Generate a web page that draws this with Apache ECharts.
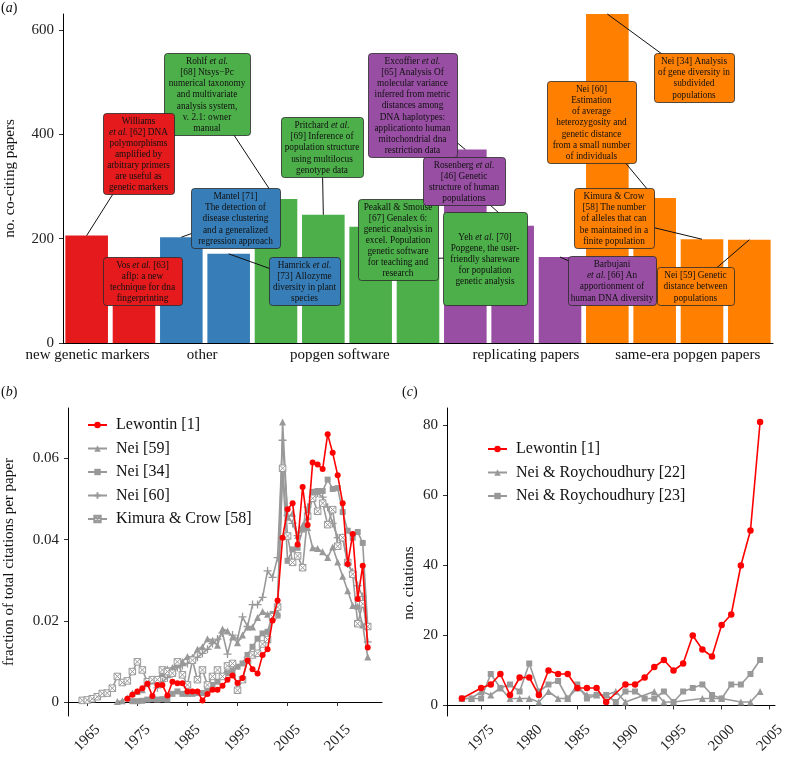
<!DOCTYPE html>
<html><head><meta charset="utf-8">
<script src="https://cdn.jsdelivr.net/npm/echarts@6/dist/echarts.min.js"></script>
<style>html,body{margin:0;padding:0;background:#fff}#c{width:790px;height:757px}</style>
</head><body><div id="c"></div>
<script>
// ---------------- Panel (a) data ----------------
const groupNames = ['new genetic markers', 'other', 'popgen software', 'replicating papers', 'same-era popgen papers'];
const barGroup = [0, 0, 1, 1, 2, 2, 2, 2, 3, 3, 3, 4, 4, 4, 4];
const barValues = [206, 150, 203, 171, 276, 246, 223, 163, 371, 225, 165, 631, 278, 199, 198];
const barLabels = [
  'Williams\n{i|et al.} [62] DNA\npolymorphisms\namplified by\narbitrary primers\nare useful as\ngenetic markers',
  'Vos {i|et al.} [63]\naflp: a new\ntechnique for dna\nfingerprinting',
  'Mantel [71]\nThe detection of\ndisease clustering\nand a generalized\nregression approach',
  'Hamrick {i|et al.}\n[73] Allozyme\ndiversity in plant\nspecies',
  'Rohlf {i|et al.}\n[68] Ntsys\u2212Pc\nnumerical taxonomy\nand multivariate\nanalysis system,\nv. 2.1: owner\nmanual',
  'Pritchard {i|et al.}\n[69] Inference of\npopulation structure\nusing multilocus\ngenotype data',
  'Peakall & Smouse\n[67] Genalex 6:\ngenetic analysis in\nexcel. Population\ngenetic software\nfor teaching and\nresearch',
  'Yeh {i|et al.} [70]\nPopgene, the user-\nfriendly shareware\nfor population\ngenetic analysis',
  'Excoffier {i|et al.}\n[65] Analysis Of\nmolecular variance\ninferred from metric\ndistances among\nDNA haplotypes:\napplicationto human\nmitochondrial dna\nrestriction data',
  'Rosenberg {i|et al.}\n[46] Genetic\nstructure of human\npopulations',
  'Barbujani\n{i|et al.} [66] An\napportionment of\nhuman DNA diversity',
  'Nei [34] Analysis\nof gene diversity in\nsubdivided\npopulations',
  'Nei [60]\nEstimation\nof average\nheterozygosity and\ngenetic distance\nfrom a small number\nof individuals',
  'Kimura & Crow\n[58] The number\nof alleles that can\nbe maintained in a\nfinite population',
  'Nei [59] Genetic\ndistance between\npopulations'
];
const yTicksA = [0, 200, 400, 600];

// ---------------- Panel (b) data (fraction of total citations per paper) ----------------
const bNames = ['Lewontin [1]', 'Nei [59]', 'Nei [34]', 'Nei [60]', 'Kimura & Crow [58]'];
const bLewontinYears = [1973,1974,1975,1976,1977,1978,1979,1980,1981,1982,1983,1984,1985,1986,1987,1988,1989,1990,1991,1992,1993,1994,1995,1996,1997,1998,1999,2000,2001,2002,2003,2004,2005,2006,2007,2008,2009,2010,2011,2012,2013,2014,2015,2016,2017,2018,2019,2020,2021];
const bLewontin = [0.0008,0.0018,0.0026,0.0034,0.0045,0.0015,0.0042,0.0042,0.0016,0.0050,0.0046,0.0046,0.0026,0.0026,0.0026,0.0004,0.0020,0.0030,0.0030,0.0040,0.0055,0.0065,0.0047,0.0059,0.0102,0.0081,0.0070,0.0116,0.0130,0.0201,0.0250,0.0405,0.0475,0.0490,0.0388,0.0530,0.0436,0.0590,0.0585,0.0574,0.0660,0.0614,0.0559,0.0490,0.0340,0.0414,0.0254,0.0336,0.0134];
const bNei59Years = [1971,1972,1973,1974,1975,1976,1977,1978,1979,1980,1981,1982,1983,1984,1985,1986,1987,1988,1989,1990,1991,1992,1993,1994,1995,1996,1997,1998,1999,2000,2001,2002,2003,2004,2005,2006,2007,2008,2009,2010,2011,2012,2013,2014,2015,2016,2017,2018,2019,2020,2021];
const bNei59 = [0.0001,0.0003,0.0010,0.0022,0.0026,0.0030,0.0045,0.0052,0.0055,0.0070,0.0082,0.0085,0.0095,0.0100,0.0112,0.0110,0.0130,0.0136,0.0156,0.0152,0.0140,0.0180,0.0175,0.0160,0.0146,0.0165,0.0185,0.0185,0.0208,0.0223,0.0216,0.0216,0.0220,0.0690,0.0455,0.0465,0.0410,0.0435,0.0430,0.0380,0.0378,0.0370,0.0356,0.0382,0.0345,0.0310,0.0274,0.0238,0.0236,0.0190,0.0111];
const bNei34Years = [1974,1975,1976,1977,1978,1979,1980,1981,1982,1983,1984,1985,1986,1987,1988,1989,1990,1991,1992,1993,1994,1995,1996,1997,1998,1999,2000,2001,2002,2003,2004,2005,2006,2007,2008,2009,2010,2011,2012,2013,2014,2015,2016,2017,2018,2019,2020,2021];
const bNei34 = [0.0002,0.0002,0.0003,0.0006,0.0007,0.0006,0.0007,0.0006,0.0020,0.0026,0.0020,0.0020,0.0020,0.0022,0.0022,0.0034,0.0042,0.0050,0.0064,0.0071,0.0077,0.0087,0.0095,0.0116,0.0136,0.0156,0.0169,0.0173,0.0217,0.0213,0.0576,0.0348,0.0376,0.0380,0.0425,0.0470,0.0518,0.0520,0.0520,0.0548,0.0525,0.0527,0.0468,0.0422,0.0405,0.0419,0.0392,0.0186];
const bNei60Years = [1979,1980,1981,1982,1983,1984,1985,1986,1987,1988,1989,1990,1991,1992,1993,1994,1995,1996,1997,1998,1999,2000,2001,2002,2003,2004,2005,2006,2007,2008,2009,2010,2011,2012,2013,2014,2015,2016,2017,2018,2019,2020,2021];
const bNei60 = [0.0035,0.0050,0.0060,0.0070,0.0085,0.0090,0.0095,0.0105,0.0110,0.0120,0.0130,0.0144,0.0155,0.0170,0.0118,0.0165,0.0155,0.0210,0.0186,0.0240,0.0240,0.0258,0.0323,0.0307,0.0356,0.0645,0.0460,0.0440,0.0410,0.0430,0.0480,0.0505,0.0515,0.0505,0.0480,0.0440,0.0405,0.0405,0.0340,0.0320,0.0287,0.0260,0.0148];
const bKimuraYears = [1964,1965,1966,1967,1968,1969,1970,1971,1972,1973,1974,1975,1976,1977,1978,1979,1980,1981,1982,1983,1984,1985,1986,1987,1988,1989,1990,1991,1992,1993,1994,1995,1996,1997,1998,1999,2000,2001,2002,2003,2004,2005,2006,2007,2008,2009,2010,2011,2012,2013,2014,2015,2016,2017,2018,2019,2020,2021];
const bKimura = [0.0004,0.0005,0.0008,0.0013,0.0021,0.0022,0.0034,0.0063,0.0048,0.0052,0.0075,0.0099,0.0079,0.0050,0.0055,0.0055,0.0079,0.0075,0.0071,0.0099,0.0067,0.0042,0.0103,0.0055,0.0079,0.0042,0.0063,0.0079,0.0063,0.0089,0.0095,0.0029,0.0055,0.0103,0.0116,0.0120,0.0143,0.0154,0.0210,0.0234,0.0576,0.0409,0.0344,0.0360,0.0331,0.0458,0.0502,0.0470,0.0490,0.0437,0.0474,0.0384,0.0405,0.0344,0.0315,0.0193,0.0242,0.0186];
const bXTicks = [1965, 1975, 1985, 1995, 2005, 2015];
const bYTicks = [0, 0.02, 0.04, 0.06];

// ---------------- Panel (c) data (no. citations) ----------------
const cNames = ['Lewontin [1]', 'Nei & Roychoudhury [22]', 'Nei & Roychoudhury [23]'];
const cLewontinYears = [1973,1975,1976,1977,1978,1979,1980,1981,1982,1983,1984,1985,1986,1987,1988,1990,1991,1992,1993,1994,1995,1996,1997,1998,1999,2000,2001,2002,2003,2004];
const cLewontin = [2,5,6,9,3,8,8,3,10,9,9,5,5,5,1,6,6,8,11,13,10,12,20,16,14,23,26,40,50,81];
const cNR22Years = [1973,1974,1975,1976,1977,1978,1979,1980,1981,1982,1983,1984,1985,1986,1987,1988,1989,1990,1993,1994,1995,1998,1999,2000,2002,2003,2004];
const cNR22 = [2,2,4,3,5,2,2,2,1,4,2,2,5,3,3,3,4,1,4,1,1,2,2,2,1,1,4];
const cNR23Years = [1973,1974,1975,1976,1977,1978,1979,1980,1981,1982,1983,1984,1985,1986,1987,1988,1989,1990,1991,1992,1993,1994,1995,1996,1997,1998,1999,2000,2001,2002,2003,2004];
const cNR23 = [2,2,2,9,5,6,4,12,4,6,7,2,6,2,3,3,1,4,4,2,2,4,1,4,5,6,3,2,6,6,9,13];
const cXTicks = [1975, 1980, 1985, 1990, 1995, 2000, 2005];
const cYTicks = [0, 20, 40, 60, 80];

// ---------------- styling ----------------
const SERIF = 'Liberation Serif';
const groupColors = ['#E41A1C', '#377EB8', '#4DAF4A', '#984EA3', '#FF7F00'];
const groupLabelPos = [0.52, 2.94, 5.85, 9.78, 13.2];
const boxRects = [
  [103,113,174,194],[103,257,182,305],[191,188,280,248],[269,257,340,305],
  [164,53,250,135],[281,117,363,177],[358,199,438,280],[443,212,527,305],
  [368,53,457,157],[423,157,505,205],[568,256,656,305],[654,53,734,102],
  [547,81,636,163],[574,188,654,248],[657,267,734,305]
];
const drawOrder = [4,0,1,2,3,5,6,7,8,9,10,11,12,13,14];
const GRAY = '#999999';
const RED = '#FF0000';
const pairs = (xs, ys) => xs.map((x, i) => [x, ys[i]]);
const plusSym = 'path://M5 0V10M0 5H10';
const boxXSym = 'path://M0 0H10V10H0ZM0 0L10 10M10 0L0 10';

const axisLineStyle = {show: true, lineStyle: {color: '#000', width: 1}};
const tickStyle = {show: true, length: 4, lineStyle: {color: '#333', width: 1}};
const labelFont = {fontFamily: SERIF, fontSize: 15, color: '#222'};

function lineSeries(name, data, xi, yi, sym, size, color, extra) {
  return Object.assign({
    type: 'line', name, data, xAxisIndex: xi, yAxisIndex: yi,
    symbol: sym, symbolSize: size, showSymbol: true,
    lineStyle: {color, width: 1.6},
    itemStyle: {color},
    emphasis: {disabled: true}, animation: false
  }, extra || {});
}

const chart = echarts.init(document.getElementById('c'), null, {renderer: 'canvas'});
const option = {
  animation: false,
  backgroundColor: '#fff',
  textStyle: {fontFamily: SERIF},
  grid: [
    {left: 63, top: 14, width: 710, height: 329, outerBoundsMode: 'none', containLabel: false},
    {left: 68, top: 408, width: 314, height: 308, outerBoundsMode: 'none', containLabel: false},
    {left: 447, top: 408, width: 328, height: 308, outerBoundsMode: 'none', containLabel: false}
  ],
  xAxis: [
    {type: 'category', gridIndex: 0, position: 'bottom', data: barValues.map((v, i) => i), boundaryGap: true,
     axisLine: axisLineStyle, axisTick: {show: false}, axisLabel: {show: false}, splitLine: {show: false}},
    {type: 'value', gridIndex: 0, position: 'bottom', min: 0, max: 15, axisLine: {show: false}, axisTick: {show: false},
     splitLine: {show: false},
     axisLabel: Object.assign({}, labelFont, {color: '#111', margin: 5, customValues: groupLabelPos, showMinLabel: true, showMaxLabel: true,
       formatter: v => { let k = 0; groupLabelPos.forEach((p, i) => { if (Math.abs(p - v) < Math.abs(groupLabelPos[k] - v)) k = i; }); return groupNames[k]; }})},
    {type: 'value', gridIndex: 1, min: 1961.15, max: 2023.85, axisLine: axisLineStyle,
     axisTick: Object.assign({}, tickStyle, {customValues: bXTicks}), splitLine: {show: false},
     axisLabel: Object.assign({}, labelFont, {customValues: bXTicks, rotate: 45, align: 'center', verticalAlign: 'middle', margin: 22, formatter: v => String(v)})},
    {type: 'value', gridIndex: 2, min: 1971.45, max: 2005.55, axisLine: axisLineStyle,
     axisTick: Object.assign({}, tickStyle, {customValues: cXTicks}), splitLine: {show: false},
     axisLabel: Object.assign({}, labelFont, {customValues: cXTicks, rotate: 45, align: 'center', verticalAlign: 'middle', margin: 22, formatter: v => String(v)})}
  ],
  yAxis: [
    {type: 'value', gridIndex: 0, min: 0, max: 631, axisLine: axisLineStyle,
     axisTick: Object.assign({}, tickStyle, {customValues: yTicksA}), splitLine: {show: false},
     axisLabel: Object.assign({}, labelFont, {customValues: yTicksA, margin: 9}),
     name: 'no. co-citing papers', nameLocation: 'middle', nameGap: 45,
     nameTextStyle: {fontFamily: SERIF, fontSize: 15, color: '#111'}},
    {type: 'value', gridIndex: 1, min: -0.00345, max: 0.07245, axisLine: axisLineStyle,
     axisTick: Object.assign({}, tickStyle, {customValues: bYTicks}), splitLine: {show: false},
     axisLabel: Object.assign({}, labelFont, {customValues: bYTicks, margin: 9, formatter: v => v === 0 ? '0' : v.toFixed(2)}),
     name: 'fraction of total citations per paper', nameLocation: 'middle', nameGap: 51,
     nameTextStyle: {fontFamily: SERIF, fontSize: 15, color: '#111'}},
    {type: 'value', gridIndex: 2, min: -3, max: 85, axisLine: axisLineStyle,
     axisTick: Object.assign({}, tickStyle, {customValues: cYTicks}), splitLine: {show: false},
     axisLabel: Object.assign({}, labelFont, {customValues: cYTicks, margin: 9}),
     name: 'no. citations', nameLocation: 'middle', nameGap: 30,
     nameTextStyle: {fontFamily: SERIF, fontSize: 15, color: '#111', padding: [0, 42, 0, 0]}}
  ],
  legend: [
    {data: bNames, orient: 'vertical', left: 87, top: 417, padding: 0, itemGap: 7.5, itemWidth: 19, itemHeight: 8,
     selectedMode: false, textStyle: {fontFamily: SERIF, fontSize: 16, color: '#111', lineHeight: 16, padding: [0, 0, 0, 4]}},
    {data: cNames, orient: 'vertical', left: 487, top: 441, padding: 0, itemGap: 7.5, itemWidth: 19, itemHeight: 8,
     selectedMode: false, textStyle: {fontFamily: SERIF, fontSize: 16, color: '#111', lineHeight: 16, padding: [0, 0, 0, 4]}}
  ],
  series: [
    {type: 'bar', xAxisIndex: 0, yAxisIndex: 0, barCategoryGap: '10%', animation: false,
     data: barValues.map((v, i) => ({value: v, itemStyle: {color: groupColors[barGroup[i]]}})),
     emphasis: {disabled: true}},
    lineSeries(bNames[1], pairs(bNei59Years, bNei59), 2, 1, 'triangle', 7, GRAY),
    lineSeries(bNames[2], pairs(bNei34Years, bNei34), 2, 1, 'rect', 6, GRAY),
    lineSeries(bNames[3], pairs(bNei60Years, bNei60), 2, 1, plusSym, 8, GRAY,
      {itemStyle: {color: 'rgba(0,0,0,0)', borderColor: GRAY, borderWidth: 1.3}}),
    lineSeries(bNames[4], pairs(bKimuraYears, bKimura), 2, 1, boxXSym, 6.5, GRAY,
      {itemStyle: {color: '#fff', borderColor: GRAY, borderWidth: 1}}),
    lineSeries(bNames[0], pairs(bLewontinYears, bLewontin), 2, 1, 'circle', 6, RED, {z: 5}),
    lineSeries(cNames[1], pairs(cNR22Years, cNR22), 3, 2, 'triangle', 7, GRAY),
    lineSeries(cNames[2], pairs(cNR23Years, cNR23), 3, 2, 'rect', 6, GRAY),
    lineSeries(cNames[0], pairs(cLewontinYears, cLewontin), 3, 2, 'circle', 6.5, RED, {z: 5})
  ]
};
chart.setOption(option);

// annotation boxes (ggrepel-like) for panel (a)
const graphics = [];
barValues.forEach((v, i) => {
  const p = chart.convertToPixel({xAxisIndex: 0, yAxisIndex: 0}, [i, v]);
  const r = boxRects[i];
  graphics.push({type: 'line', z: 50, silent: true,
    shape: {x1: p[0], y1: p[1], x2: (r[0] + r[2]) / 2, y2: (r[1] + r[3]) / 2},
    style: {stroke: '#111', lineWidth: 1}});
});
drawOrder.forEach((i, k) => {
  const r = boxRects[i];
  const col = groupColors[barGroup[i]];
  graphics.push({type: 'rect', z: 60 + k * 2, silent: true,
    shape: {x: r[0] + 0.5, y: r[1] + 0.5, width: r[2] - r[0], height: r[3] - r[1], r: 3},
    style: {fill: col, stroke: '#2a2a2a', lineWidth: 0.8}});
  graphics.push({type: 'text', z: 61 + k * 2, silent: true,
    x: (r[0] + r[2]) / 2, y: (r[1] + r[3]) / 2 + 1,
    style: {text: barLabels[i], fontFamily: SERIF, fontSize: 9.3, lineHeight: 11.1, fill: '#111',
      align: 'center', verticalAlign: 'middle',
      rich: {i: {fontStyle: 'italic', fontFamily: SERIF, fontSize: 9.3, lineHeight: 11.1, fill: '#111'}}}});
});
const panelTag = (t, x, y) => ({type: 'text', z: 100, x, y, silent: true,
  style: {text: '({i|' + t + '})', fontFamily: SERIF, fontSize: 14, fill: '#111',
    rich: {i: {fontStyle: 'italic', fontFamily: SERIF, fontSize: 14, fill: '#111'}}}});
graphics.push(panelTag('a', 1, 1), panelTag('b', 1, 385), panelTag('c', 402, 385));
chart.setOption({graphic: graphics});
</script>
</body></html>
